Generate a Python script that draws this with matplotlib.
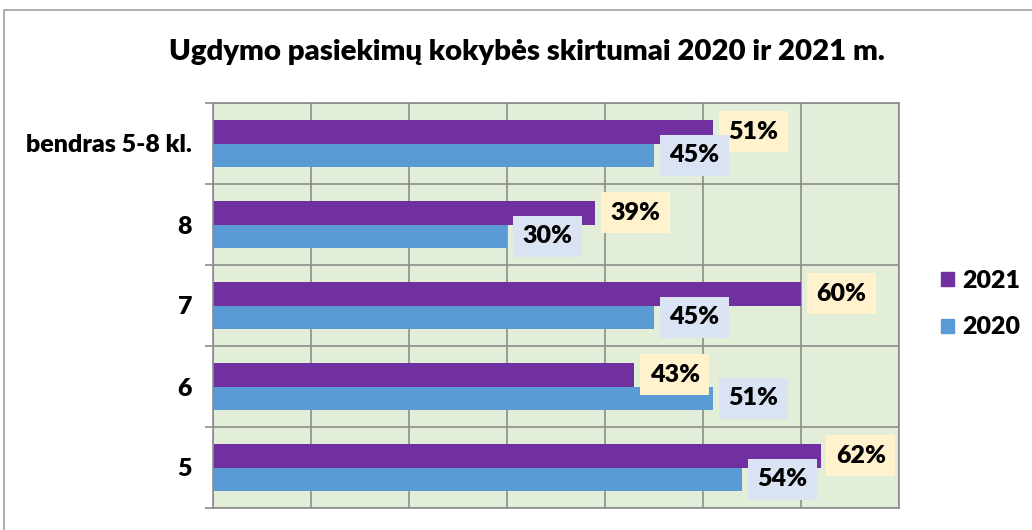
import matplotlib
matplotlib.use("Agg")
import matplotlib.pyplot as plt
from matplotlib.patches import Patch, Rectangle

plt.rcParams['font.family'] = ['Lato', 'DejaVu Sans']
plt.rcParams['font.weight'] = 'heavy'

# Data (bottom to top)
categories = ["5", "6", "7", "8", "bendras 5-8 kl."]
values_2021 = [62, 43, 60, 39, 51]
values_2020 = [54, 51, 45, 30, 45]
series_labels = ["2021", "2020"]

purple = "#7030a0"
blue = "#5b9bd5"
box_2021 = "#fff2cc"
box_2020 = "#dae3f3"
grid_col = "#8c8c8c"

fig = plt.figure(figsize=(10.32, 5.30), dpi=100)

# outer chart border
fig.patches.append(Rectangle((4 / 1032, -0.1), 1.2, 1.1 - 10 / 530,
                             transform=fig.transFigure, fill=False,
                             edgecolor="#a0a0a0", linewidth=1.2))

ax = fig.add_axes([213 / 1032, 22 / 530, 686 / 1032, 405 / 530])
ax.set_facecolor("#e3eed9")

y = list(range(len(categories)))
h = 0.29
y21 = [v + h / 2 for v in y]
y20 = [v - h / 2 for v in y]
ax.barh(y21, values_2021, height=h, color=purple, zorder=2)
ax.barh(y20, values_2020, height=h, color=blue, zorder=2)

lbl = dict(ha="left", va="center", fontsize=18, fontweight="heavy",
           textcoords="offset points", xytext=(11, 0))
for yy, v in zip(y21, values_2021):
    ax.annotate(f"{v}%", (v, yy), zorder=4,
                bbox=dict(boxstyle="square,pad=0.38", fc=box_2021, ec="none"), **lbl)
for yy, v in zip(y20, values_2020):
    ax.annotate(f"{v}%", (v, yy), zorder=5,
                bbox=dict(boxstyle="square,pad=0.38", fc=box_2020, ec="none"), **lbl)

ax.set_xlim(0, 70)
ax.set_ylim(-0.5, len(categories) - 0.5)
ax.set_xticks(range(0, 71, 10))
ax.set_xticklabels([])
ax.tick_params(axis="x", length=0)
ax.set_yticks(y)
ax.set_yticklabels(categories, fontsize=18, fontweight="heavy")
ax.tick_params(axis="y", which="major", length=0, pad=15)
ax.set_yticks([v - 0.5 for v in range(len(categories) + 1)], minor=True)
ax.tick_params(axis="y", which="minor", length=6, color=grid_col, width=1.2)
ax.grid(axis="x", which="major", color=grid_col, linewidth=1.2, zorder=1)
ax.grid(axis="y", which="minor", color=grid_col, linewidth=1.2, zorder=1)
ax.set_axisbelow(True)
for s in ax.spines.values():
    s.set_color(grid_col)
    s.set_linewidth(1.2)

fig.text(527 / 1032, 1 - 52 / 530, "Ugdymo pasiekimų kokybės skirtumai 2020 ir 2021 m.",
         ha="center", va="center", fontsize=21.2, fontweight="heavy")

handles = [Patch(color=purple), Patch(color=blue)]
fig.legend(handles, series_labels, loc="center left",
           bbox_to_anchor=(941 / 1032, 1 - 304 / 530), frameon=False,
           borderpad=0, borderaxespad=0,
           prop=dict(size=18, weight="heavy"), handlelength=0.5,
           handleheight=0.5, handletextpad=0.35, labelspacing=1.0)

fig.savefig("out.png", dpi=100)
